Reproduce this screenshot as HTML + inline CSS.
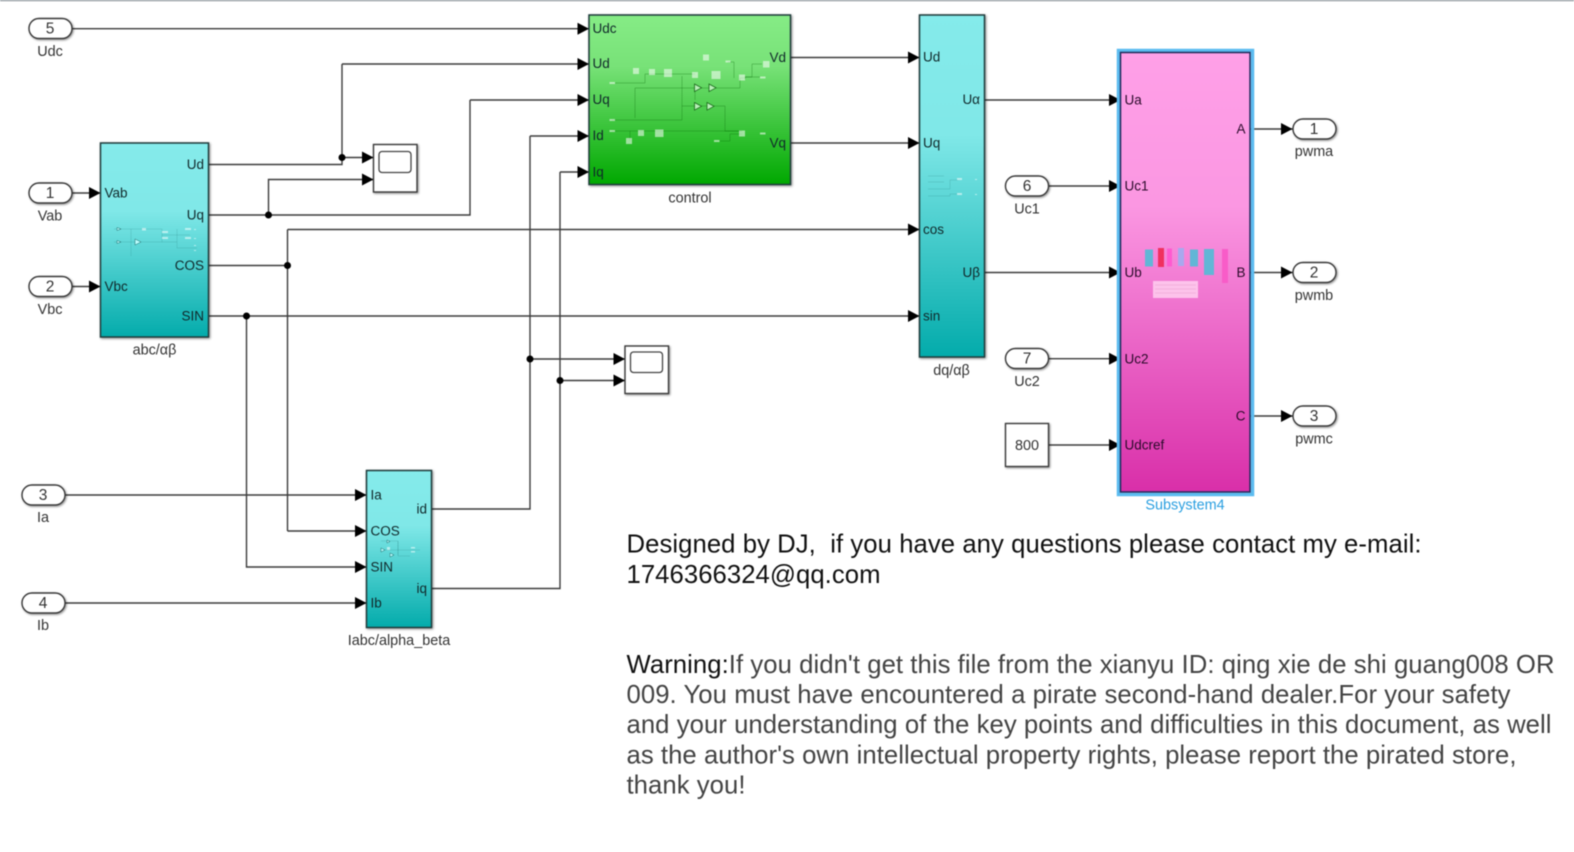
<!DOCTYPE html>
<html><head><meta charset="utf-8"><title>Simulink model</title>
<style>
html,body{margin:0;padding:0;background:#fff;width:1574px;height:852px;overflow:hidden}
svg{display:block;font-family:"Liberation Sans",Arial,sans-serif;filter:blur(.4px)}
text{white-space:pre}
.l{font-size:14.4px;fill:#333;text-anchor:middle}
.p{font-size:13.5px;fill:#10282a;transform:translate(-.5px,-.3px)}
.r{font-size:13.5px;fill:#10282a;text-anchor:end;transform:translateY(-.3px)}
.w{fill:none;stroke:#3c3c3c;stroke-width:1.4}
.a{marker-end:url(#ah)}
.dot{fill:#000}
.port{fill:#fff;stroke:#3a3a3a;stroke-width:1.4;filter:drop-shadow(1.2px 1.2px 1px rgba(0,0,0,.45))}
.blk{stroke:#1f3c3c;stroke-width:1.5;filter:drop-shadow(1.5px 1.5px 1.2px rgba(0,0,0,.45))}
.n{font-size:15.5px;fill:#333;text-anchor:middle}
.b{font-size:25.7px;fill:#111}
.g{font-size:25.7px;fill:#444}
.ts{fill:#fff;opacity:.55}
.tl{fill:none;stroke:#0a6a0a;stroke-width:.5;opacity:.6}
.tc{fill:none;stroke:#1a6a6a;stroke-width:.4;opacity:.4}
</style></head><body>
<svg width="1574" height="852" viewBox="0 0 1574 852" xmlns="http://www.w3.org/2000/svg">
<defs>
<marker id="ah" markerUnits="userSpaceOnUse" markerWidth="13" markerHeight="13" refX="11.5" refY="6" orient="auto"><path d="M0 0L11.5 6L0 12z" fill="#000"/></marker>
<linearGradient id="cy" x1="0" y1="0" x2="0" y2="1"><stop offset="0" stop-color="#85ebeb"/><stop offset=".35" stop-color="#80e8e8"/><stop offset="1" stop-color="#03abab"/></linearGradient>
<linearGradient id="gr" x1="0" y1="0" x2="0" y2="1"><stop offset="0" stop-color="#86ec86"/><stop offset=".3" stop-color="#78e278"/><stop offset="1" stop-color="#00a800"/></linearGradient>
<linearGradient id="pk" x1="0" y1="0" x2="0" y2="1"><stop offset="0" stop-color="#ffa0e8"/><stop offset=".35" stop-color="#fb97e2"/><stop offset="1" stop-color="#d92fa9"/></linearGradient>
</defs>
<rect x="0" y="0" width="1574" height="1.2" fill="#8c969c"/>

<!-- wires -->
<path class="w a" d="M72 28.7H589"/>
<path class="w a" d="M72 193H100.5"/>
<path class="w a" d="M72 286.5H100.5"/>
<path class="w" d="M208.5 164.5H342V64"/>
<path class="w a" d="M342 64H589"/>
<path class="w a" d="M342 157.5H373.5"/>
<path class="w" d="M208.5 215H470V100"/>
<path class="w a" d="M470 100H589"/>
<path class="w a" d="M268.5 215V179.5H373.5"/>
<path class="w" d="M208.5 265.5H287.5"/>
<path class="w a" d="M287.5 229.5H919.5"/>
<path class="w" d="M287.5 229.5V531"/>
<path class="w a" d="M287.5 531H366.5"/>
<path class="w a" d="M208.5 316H919.5"/>
<path class="w a" d="M246.5 316V567H366.5"/>
<path class="w a" d="M65 495H366.5"/>
<path class="w a" d="M65 603H366.5"/>
<path class="w" d="M431.5 509H530V136"/>
<path class="w a" d="M530 136H589"/>
<path class="w" d="M431.5 588.500H560V172"/>
<path class="w a" d="M560 172H589"/>
<path class="w a" d="M530 359H625"/>
<path class="w a" d="M560 380.500H625"/>
<path class="w a" d="M790 57.500H919.500"/>
<path class="w a" d="M790 143H919.500"/>
<path class="w a" d="M984.500 100H1120.500"/>
<path class="w a" d="M984.500 272.500H1120.500"/>
<path class="w a" d="M1048.700 186H1120.500"/>
<path class="w a" d="M1048.700 358.700H1120.500"/>
<path class="w a" d="M1048.700 445H1120.500"/>
<path class="w a" d="M1250 129H1292.500"/>
<path class="w a" d="M1250 272.500H1292.500"/>
<path class="w a" d="M1250 416H1292.500"/>
<circle class="dot" cx="342" cy="157.500" r="3.500"/>
<circle class="dot" cx="268.500" cy="215" r="3.500"/>
<circle class="dot" cx="287.500" cy="265.500" r="3.500"/>
<circle class="dot" cx="246.500" cy="316" r="3.500"/>
<circle class="dot" cx="530" cy="359" r="3.500"/>
<circle class="dot" cx="560" cy="380.500" r="3.500"/>

<!-- inports / outports -->
<g>
<rect class="port" x="29" y="18.500" width="43" height="20" rx="10"/>
<rect class="port" x="29" y="183" width="43" height="20" rx="10"/>
<rect class="port" x="29" y="276.500" width="43" height="20" rx="10"/>
<rect class="port" x="22" y="485" width="43" height="20" rx="10"/>
<rect class="port" x="22" y="593" width="43" height="20" rx="10"/>
<rect class="port" x="1005.500" y="176" width="43" height="20" rx="10"/>
<rect class="port" x="1005.500" y="348.500" width="43" height="20" rx="10"/>
<rect class="port" x="1293" y="119" width="43" height="20" rx="10"/>
<rect class="port" x="1293" y="262.500" width="43" height="20" rx="10"/>
<rect class="port" x="1293" y="406" width="43" height="20" rx="10"/>
</g>
<g class="n">
<text class="n" x="50" y="33.500">5</text><text class="n" x="50" y="198">1</text><text class="n" x="50" y="291.500">2</text>
<text class="n" x="43" y="500">3</text><text class="n" x="43" y="608">4</text>
<text class="n" x="1027" y="191">6</text><text class="n" x="1027" y="363.500">7</text>
<text class="n" x="1314" y="134">1</text><text class="n" x="1314" y="277.500">2</text><text class="n" x="1314" y="421">3</text>
</g>
<text class="l" x="50" y="56">Udc</text>
<text class="l" x="50" y="220.500">Vab</text>
<text class="l" x="50" y="314">Vbc</text>
<text class="l" x="43" y="522">Ia</text>
<text class="l" x="43" y="630">Ib</text>
<text class="l" x="1027" y="213.500">Uc1</text>
<text class="l" x="1027" y="386">Uc2</text>
<text class="l" x="1314" y="156">pwma</text>
<text class="l" x="1314" y="300">pwmb</text>
<text class="l" x="1314" y="443.500">pwmc</text>

<!-- scopes -->
<rect class="port" x="373.500" y="144.500" width="43.500" height="47.500"/>
<rect x="379" y="151.500" width="32" height="21" rx="3" fill="#fff" stroke="#444" stroke-width="1.300"/>
<rect class="port" x="625" y="346" width="43.500" height="47.500"/>
<rect x="630.500" y="352" width="32" height="20.500" rx="3" fill="#fff" stroke="#444" stroke-width="1.300"/>

<!-- abc block -->
<rect class="blk" x="100.500" y="143" width="108" height="194" fill="url(#cy)"/>
<text class="p" x="105" y="198">Vab</text><text class="p" x="105" y="291.500">Vbc</text>
<text class="r" x="204" y="169.500">Ud</text><text class="r" x="204" y="220">Uq</text><text class="r" x="204" y="270.500">COS</text><text class="r" x="204" y="321">SIN</text>
<text class="l" x="154.500" y="354.500">abc/αβ</text>
<path class="tc" d="M114 229H131V256M114 242H143M131 229H162V242M143 242H177M177 229V248H197M162 235H190"/>
<path d="M117 227.500l4 1.500l-4 1.500zM117 240.500l4 1.500l-4 1.500zM135 239l6 3l-6 3z" fill="#bff" stroke="#1a6a6a" stroke-width=".5"/>
<rect class="ts" x="142" y="228" width="4" height="2.500"/><rect class="ts" x="162" y="231" width="6" height="2"/><rect class="ts" x="162" y="237" width="6" height="2"/><rect class="ts" x="185" y="228" width="6" height="2"/><rect class="ts" x="185" y="237" width="6" height="2"/><rect class="ts" x="194" y="229" width="2" height="1"/><rect class="ts" x="194" y="238" width="2" height="1"/><rect class="ts" x="194" y="245" width="2" height="1"/><rect class="ts" x="194" y="250" width="2" height="1"/>

<!-- control block -->
<rect class="blk" x="589" y="15" width="201.500" height="169.500" fill="url(#gr)"/>
<g class="p" fill="#0a2a0a">
<text class="p" x="593.500" y="33.500">Udc</text><text class="p" x="593.500" y="68.500">Ud</text><text class="p" x="593.500" y="104.500">Uq</text><text class="p" x="593.500" y="140.500">Id</text><text class="p" x="593.500" y="177">Iq</text>
</g>
<text class="r" x="786" y="62.500">Vd</text><text class="r" x="786" y="148">Vq</text>
<text class="l" x="690" y="202.500">control</text>
<path class="tl" d="M615 83H645V74H695M635 118V88H695V100M612 120H682V76M612 131H742M630 141V131M697 88H740V78H746M682 106H725V131H742M720 141H730V134H742M728 62H734V78M745 77H752V64H762M745 77H760"/>
<g class="ts">
<rect x="633" y="68" width="6" height="6"/><rect x="649" y="69" width="6" height="6"/><rect x="664" y="69" width="8" height="8"/><rect x="692" y="72" width="6" height="6"/><rect x="711.500" y="71" width="9" height="8"/><rect x="703" y="54.500" width="6" height="6"/><rect x="725.500" y="60.500" width="5" height="2"/><rect x="739" y="74.500" width="6" height="6"/><rect x="763" y="61" width="6.500" height="6.500"/><rect x="760" y="76.500" width="5.500" height="2"/><rect x="609.500" y="82" width="5.500" height="2"/><rect x="609.500" y="119" width="5.500" height="2"/><rect x="609.500" y="130" width="5.500" height="2"/><rect x="638" y="130" width="6" height="6"/><rect x="655" y="129.500" width="8.500" height="7.500"/><rect x="626" y="138" width="6" height="6"/><rect x="714" y="140" width="5.500" height="2"/><rect x="739" y="130.500" width="6" height="6"/><rect x="760" y="132.500" width="5.500" height="2"/>
</g>
<path d="M694.500 84l7 3.800l-7 3.800zM709 84l7 3.800l-7 3.800zM694.500 102.500l7 3.800l-7 3.800zM707 102.500l7 3.800l-7 3.800z" fill="#b8f0b8" stroke="#1a6a1a" stroke-width=".8"/>

<!-- dq block -->
<rect class="blk" x="919.500" y="15" width="65" height="342" fill="url(#cy)"/>
<text class="p" x="923.500" y="62">Ud</text><text class="p" x="923.500" y="148">Uq</text><text class="p" x="923.500" y="234.500">cos</text><text class="p" x="923.500" y="321">sin</text>
<text class="r" x="980" y="104.500">Uα</text><text class="r" x="980" y="277.500">Uβ</text>
<text class="l" x="951.500" y="375">dq/αβ</text>
<path class="tc" d="M928 176H944M928 182H944M928 189H950V180H958M928 196H950V194H958"/>
<rect class="ts" x="957" y="178" width="5" height="2"/><rect class="ts" x="957" y="193" width="5" height="2"/><rect class="ts" x="975" y="179" width="2" height="1"/><rect class="ts" x="975" y="194" width="2" height="1"/>

<!-- Iabc block -->
<rect class="blk" x="366.500" y="470.500" width="65" height="157" fill="url(#cy)"/>
<text class="p" x="371" y="500">Ia</text><text class="p" x="371" y="536">COS</text><text class="p" x="371" y="572">SIN</text><text class="p" x="371" y="608">Ib</text>
<text class="r" x="427" y="514">id</text><text class="r" x="427" y="593.500">iq</text>
<text class="l" x="399" y="645">Iabc/alpha_beta</text>
<path class="tc" d="M381 541H398V555M381 550H420M398 541V556H410"/>
<path d="M387 540l3 1.500l-3 1.500zM381 548l4 2l-4 2zM390 553l4 2l-4 2z" fill="#bff" stroke="#1a6a6a" stroke-width=".5"/>
<rect class="ts" x="387" y="547" width="3" height="3"/><rect class="ts" x="411" y="547" width="4" height="1.500"/><rect class="ts" x="411" y="551" width="4" height="1.500"/>

<!-- Subsystem -->
<rect x="1118.500" y="50.500" width="134" height="444" fill="none" stroke="#5cbcf0" stroke-width="3.500"/>
<rect x="1120.500" y="52.500" width="129.500" height="439.500" fill="url(#pk)" stroke="#1f2a5a" stroke-width="1.500"/>
<g>
<text class="p" x="1125" y="105" style="fill:#2a0a2a">Ua</text><text class="p" x="1125" y="191" style="fill:#2a0a2a">Uc1</text><text class="p" x="1125" y="277.500" style="fill:#2a0a2a">Ub</text><text class="p" x="1125" y="364" style="fill:#2a0a2a">Uc2</text><text class="p" x="1125" y="450" style="fill:#2a0a2a">Udcref</text>
<text class="r" x="1245.500" y="134" style="fill:#2a0a2a">A</text><text class="r" x="1245.500" y="277.500" style="fill:#2a0a2a">B</text><text class="r" x="1245.500" y="421" style="fill:#2a0a2a">C</text>
</g>
<rect x="1145" y="249.500" width="8" height="17" fill="#62b6d6"/>
<rect x="1158" y="248" width="6" height="19" fill="#f0305f"/>
<rect x="1167" y="248.500" width="5" height="18" fill="#ff5ad0"/>
<rect x="1178" y="248" width="6" height="18" fill="#a8a8ee"/>
<rect x="1190" y="249.500" width="8" height="17" fill="#62b6d6"/>
<rect x="1204" y="249" width="10" height="26" fill="#62b6d6"/>
<rect x="1222" y="249" width="6" height="34" fill="#f85cc8"/>
<rect x="1153" y="281" width="45" height="17" fill="#ffd0f0" opacity=".85"/>
<path d="M1155 285H1196M1155 289H1196M1155 293H1196" stroke="#e79ad0" stroke-width=".6"/>
<text class="l" x="1185" y="509.500" style="fill:#2a9fe0">Subsystem4</text>

<!-- constant -->
<rect class="port" x="1005.500" y="423.500" width="43" height="43"/>
<text x="1027" y="450" text-anchor="middle" font-size="14.400" fill="#333">800</text>

<!-- notes -->
<text class="b" x="626.500" y="552.300" textLength="795">Designed by DJ,  if you have any questions please contact my e-mail:</text>
<text class="b" x="626.500" y="583" textLength="254">1746366324@qq.com</text>
<text class="g" x="626.500" y="673" textLength="928"><tspan class="b">Warning:</tspan>If you didn't get this file from the xianyu ID: qing xie de shi guang008 OR</text>
<text class="g" x="626.500" y="703" textLength="884">009. You must have encountered a pirate second-hand dealer.For your safety</text>
<text class="g" x="626.500" y="733" textLength="925">and your understanding of the key points and difficulties in this document, as well</text>
<text class="g" x="626.500" y="763.300" textLength="890">as the author's own intellectual property rights, please report the pirated store,</text>
<text class="g" x="626.500" y="793.500" textLength="119">thank you!</text>
</svg>
</body></html>
